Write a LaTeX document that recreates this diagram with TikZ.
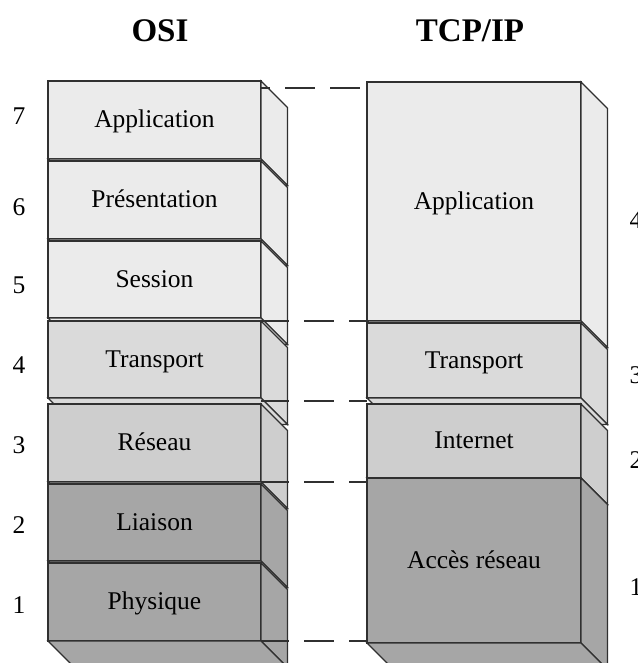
\documentclass[tikz,border=0pt]{standalone}
\usepackage{fontspec}
\setmainfont{Liberation Serif}
\usetikzlibrary{calc}

\definecolor{edge}{HTML}{303030}
\definecolor{layerA}{HTML}{EBEBEB}
\definecolor{layerB}{HTML}{DADADA}
\definecolor{layerC}{HTML}{CECECE}
\definecolor{layerD}{HTML}{A6A6A6}

% depth of the side and bottom faces
\def\depthx{26.5}
\def\depthy{26.5}

% one slab of a stack: front face (named node), right side face, bottom face
% #1 name, #2 left, #3 top, #4 right, #5 bottom, #6 fill, #7 label
\newcommand\stackbox[7]{%
  \node[layerbox, fill=#6, anchor=north west,
        minimum width={(#4)-(#2)}, minimum height={(#5)-(#3)}] (#1) at (#2,#3) {#7};
  \filldraw[face, fill=#6] (#1.north east) -- ++(\depthx,\depthy)
     -- ($(#1.south east)+(\depthx,\depthy)$) -- (#1.south east) -- cycle;
  \filldraw[face, fill=#6] (#1.south west) -- (#1.south east)
     -- ++(\depthx,\depthy) -- ($(#1.south west)+(\depthx,\depthy)$) -- cycle;
}

\tikzset{
  layerbox/.style={draw=edge, line width=1.2pt, rectangle, inner sep=0pt, outer sep=0pt,
    text height=19pt, text depth=4pt, font=\fontsize{25.5}{30}\selectfont},
  face/.style={draw=edge, line width=1.2pt, line join=miter},
  num/.style={anchor=base, inner sep=0pt, font=\fontsize{25.5}{30}\selectfont},
  heading/.style={anchor=base, inner sep=0pt, font=\fontsize{33}{40}\selectfont\bfseries},
  dashline/.style={draw=edge, line width=1.2pt, dash pattern=on 30pt off 15pt, dash phase=2pt},
}

\begin{document}
\begin{tikzpicture}[x=1pt, y=-1pt]
\useasboundingbox (0,0) rectangle (637,663);
\fill[white] (0,0) rectangle (637,663);

% headings
\node[heading] (osiT) at (160,42) {OSI};
\node[heading] (tcpT) at (470,42) {TCP/IP};

% OSI stack, top to bottom so each slab hides the bottom face above it
\stackbox{osi7}{48}{81}{261}{159}{layerA}{Application}
\stackbox{osi6}{48}{161}{261}{239}{layerA}{Présentation}
\stackbox{osi5}{48}{241}{261}{318}{layerA}{Session}
\stackbox{osi4}{48}{321}{261}{398}{layerB}{Transport}
\stackbox{osi3}{48}{404}{261}{482}{layerC}{Réseau}
\stackbox{osi2}{48}{484}{261}{561}{layerD}{Liaison}
\stackbox{osi1}{48}{563}{261}{641}{layerD}{Physique}

% TCP/IP stack
\stackbox{tcp4}{367}{82}{581}{321}{layerA}{Application}
\stackbox{tcp3}{367}{323}{581}{398}{layerB}{Transport}
\stackbox{tcp2}{367}{404}{581}{478}{layerC}{Internet}
\stackbox{tcp1}{367}{478}{581}{643}{layerD}{Accès réseau}

% OSI layer numbers
\node[num] (n7) at (19,125) {7};
\node[num] (n6) at (19,215) {6};
\node[num] (n5) at (19,293) {5};
\node[num] (n4) at (19,373) {4};
\node[num] (n3) at (19,453) {3};
\node[num] (n2) at (19,533) {2};
\node[num] (n1) at (19,613) {1};

% TCP/IP layer numbers
\node[num] (m4) at (636,228) {4};
\node[num] (m3) at (636,383) {3};
\node[num] (m2) at (636,468) {2};
\node[num] (m1) at (636,595) {1};

% correspondence lines between the two stacks
\coordinate (c1) at ([yshift=-7pt]osi7.north east);
\coordinate (c2) at (osi4.north east);
\coordinate (c3) at ($(osi4.south east)!0.5!(osi3.north east)$);
\coordinate (c4) at (osi3.south east);
\coordinate (c5) at (osi1.south east);
\draw[dashline, dash phase=21pt] (c1) -- (c1 -| tcp4.west);
\draw[dashline] (c2) -- (c2 -| tcp3.west);
\draw[dashline] (c3) -- (c3 -| tcp2.west);
\draw[dashline] (c4) -- (c4 -| tcp1.west);
\draw[dashline] (c5) -- (c5 -| tcp1.west);
\end{tikzpicture}
\end{document}
